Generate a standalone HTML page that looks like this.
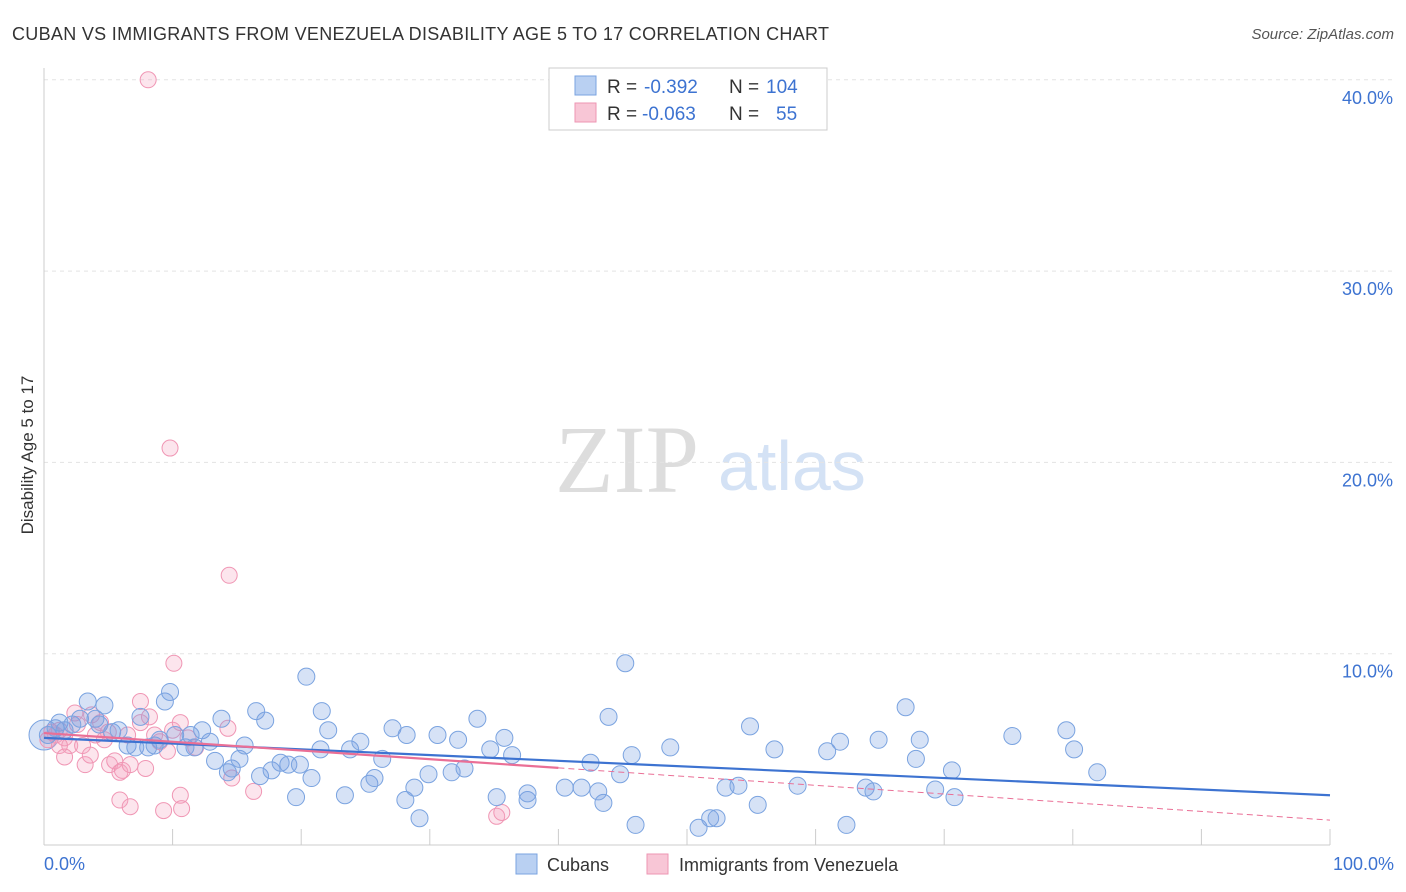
<!DOCTYPE html>
<html><head><meta charset="utf-8"><style>
body{margin:0;background:#fff;font-family:"Liberation Sans",sans-serif}
#c{position:relative;width:1406px;height:892px;overflow:hidden}
</style></head><body>
<div id="c">
<svg id="s" width="1406" height="892" xmlns="http://www.w3.org/2000/svg" font-family="Liberation Sans, sans-serif">
<text x="12" y="40" font-size="18" fill="#333" textLength="817" lengthAdjust="spacing">CUBAN VS IMMIGRANTS FROM VENEZUELA DISABILITY AGE 5 TO 17 CORRELATION CHART</text>
<text x="1394" y="39" font-size="15" fill="#555" font-style="italic" text-anchor="end">Source: ZipAtlas.com</text>
<text x="555" y="492" font-size="96" fill="#ddd" font-family="Liberation Serif, serif">ZIP</text>
<text x="718" y="490" font-size="70" fill="#d4e2f5">atlas</text>
<text transform="translate(33,455) rotate(-90)" font-size="17" fill="#333" text-anchor="middle">Disability Age 5 to 17</text>
<g id="grid"></g><g id="pts"></g><g id="trend"></g>
<g>
<rect x="549" y="68" width="278" height="62" fill="#fff" stroke="#ccc"/>
<rect x="575" y="76" width="21" height="19" fill="#b9d0f2" stroke="#7aa3e0"/>
<rect x="575" y="103" width="21" height="19" fill="#f8c6d6" stroke="#ee96b3"/>
<text x="607" y="93" font-size="19" fill="#333">R =</text>
<text x="644" y="93" font-size="19" fill="#3d73d1">-0.392</text>
<text x="729" y="93" font-size="19" fill="#333">N =</text>
<text x="766" y="93" font-size="19" fill="#3d73d1">104</text>
<text x="607" y="120" font-size="19" fill="#333">R =</text>
<text x="642" y="120" font-size="19" fill="#3d73d1">-0.063</text>
<text x="729" y="120" font-size="19" fill="#333">N =</text>
<text x="776" y="120" font-size="19" fill="#3d73d1">55</text>
</g>
<g>
<rect x="516" y="854" width="21" height="20" fill="#b9d0f2" stroke="#7aa3e0"/>
<text x="547" y="871" font-size="18" fill="#333">Cubans</text>
<rect x="647" y="854" width="21" height="20" fill="#f8c6d6" stroke="#ee96b3"/>
<text x="679" y="871" font-size="18" fill="#333">Immigrants from Venezuela</text>
</g>
</svg>
</div>
<script>
const yTicks=[10,20,30,40];
const yTickLabels=["10.0%","20.0%","30.0%","40.0%"];
const xTickLabels=["0.0%","100.0%"];
const blueX=[0.3,0.9,1.2,1.6,2.2,2.8,3.4,4.0,4.3,4.7,5.3,5.8,6.5,7.1,7.5,8.1,8.6,9.0,9.4,9.8,10.2,11.0,11.4,11.7,12.3,12.9,13.3,13.8,14.3,14.6,15.2,15.6,16.5,16.8,17.2,17.7,18.4,19.0,19.6,19.9,20.4,20.8,21.6,22.1,21.5,23.4,23.8,24.6,25.3,25.7,26.3,27.1,28.1,28.2,28.8,29.2,29.9,30.6,31.7,32.2,32.7,33.7,34.7,35.2,35.8,36.4,37.6,37.6,40.5,42.5,43.1,43.5,44.8,45.2,45.7,46.0,48.7,50.9,51.8,52.3,53.0,54.0,54.9,55.5,56.8,58.6,60.9,61.9,62.4,63.9,64.5,64.9,67.0,67.8,68.1,69.3,70.6,70.8,75.3,79.5,80.1,81.9,43.9,41.8];
const blueY=[5.75,6.1,6.4,6.0,6.3,6.6,7.5,6.6,6.3,7.3,5.9,6.0,5.2,5.1,6.7,5.1,5.2,5.5,7.5,8.0,5.75,5.1,5.75,5.1,6.0,5.4,4.4,6.6,3.8,4.0,4.5,5.2,7.0,3.6,6.5,3.9,4.3,4.2,2.5,4.2,8.8,3.5,7.0,6.0,5.0,2.6,5.0,5.4,3.2,3.5,4.5,6.1,2.35,5.75,3.0,1.4,3.7,5.75,3.8,5.5,4.0,6.6,5.0,2.5,5.6,4.7,2.35,2.7,3.0,4.3,2.8,2.2,3.7,9.5,4.7,1.05,5.1,0.9,1.4,1.4,3.0,3.1,6.2,2.1,5.0,3.1,4.9,5.4,1.05,3.0,2.8,5.5,7.2,4.5,5.5,2.9,3.9,2.5,5.7,6.0,5.0,3.8,6.7,3.0];
const pinkX=[8.1,9.8,14.4,10.1,7.5,0.3,0.9,1.2,1.6,2.0,2.4,2.6,3.0,3.2,3.6,4.0,4.4,4.7,5.1,5.5,5.9,6.1,6.5,6.7,7.5,7.9,8.2,8.6,9.0,9.6,10.0,10.6,10.6,10.7,11.2,11.8,14.3,14.6,16.3,5.9,6.7,9.3,35.2,35.6,1.2,0.6,3.7,5.0,1.6];
const pinkY=[40.0,20.75,14.1,9.5,7.5,5.5,5.75,6.0,5.6,5.2,6.9,6.3,5.2,4.2,4.7,5.75,6.4,5.5,4.2,4.4,3.8,3.9,5.75,4.2,6.4,4.0,6.7,5.75,5.4,4.9,6.0,6.4,2.6,1.9,5.6,5.1,6.1,3.5,2.8,2.35,2.0,1.8,1.5,1.7,5.2,5.9,6.8,5.9,4.6];
const blueTrend=[5.6,2.6];
const pinkTrend=[5.85,1.3];
const pinkSolidEnd=40;
const X=v=>44+v*12.86, Y=v=>845-v*19.13;
const NS="http://www.w3.org/2000/svg";
function mk(t,a,p){const e=document.createElementNS(NS,t);for(const k in a)e.setAttribute(k,a[k]);p.appendChild(e);return e;}
const grid=document.getElementById('grid');
yTicks.forEach((t,i)=>{
 const l=mk('line',{x1:44,x2:1394,y1:Y(t),y2:Y(t),stroke:'#e3e3e3','stroke-dasharray':'4,4'},grid);
 
 
 const tx=mk('text',{x:1393,y:Y(t)+24,'font-size':18,fill:'#3d73d1','text-anchor':'end'},grid);
 tx.textContent=yTickLabels[i];
 
 
});
mk('line',{x1:44,x2:44,y1:68,y2:845,stroke:'#ccc'},grid);
mk('line',{x1:44,x2:1330,y1:845,y2:845,stroke:'#ccc'},grid);
for(let i=0;i<=10;i++){mk('line',{x1:X(i*10),x2:X(i*10),y1:829,y2:845,stroke:'#ccc'},grid);}
const xl0=mk('text',{x:44,y:870,'font-size':18,fill:'#3d73d1'},grid);xl0.textContent=xTickLabels[0];


const xl1=mk('text',{x:1394,y:870,'font-size':18,fill:'#3d73d1','text-anchor':'end'},grid);xl1.textContent=xTickLabels[1];


const pts=document.getElementById('pts');
const big=mk('circle',{cx:X(0),cy:Y(5.75),r:15,fill:'rgba(120,160,225,0.3)',stroke:'#7aa3e0'},pts);


pinkX.forEach((x,i)=>{const c=mk('circle',{cx:X(x),cy:Y(pinkY[i]),r:8,fill:'rgba(245,160,190,0.28)',stroke:'#f096b4','stroke-width':1},pts);
 
 });
blueX.forEach((x,i)=>{const c=mk('circle',{cx:X(x),cy:Y(blueY[i]),r:8.5,fill:'rgba(120,160,225,0.3)',stroke:'#7aa3e0','stroke-width':1},pts);
 
 });
const tr=document.getElementById('trend');
const bl=mk('line',{x1:X(0),y1:Y(blueTrend[0]),x2:X(100),y2:Y(blueTrend[1]),stroke:'#3d73d1','stroke-width':2.2},tr);


const pAt=x=>pinkTrend[0]+(pinkTrend[1]-pinkTrend[0])*x/100;
const ps=mk('line',{x1:X(0),y1:Y(pAt(0)),x2:X(pinkSolidEnd),y2:Y(pAt(pinkSolidEnd)),stroke:'#ea6f96','stroke-width':2.2},tr);


const pd=mk('line',{x1:X(pinkSolidEnd),y1:Y(pAt(pinkSolidEnd)),x2:X(100),y2:Y(pAt(100)),stroke:'#ea6f96','stroke-width':1,'stroke-dasharray':'6,4'},tr);


</script>
</body></html>
